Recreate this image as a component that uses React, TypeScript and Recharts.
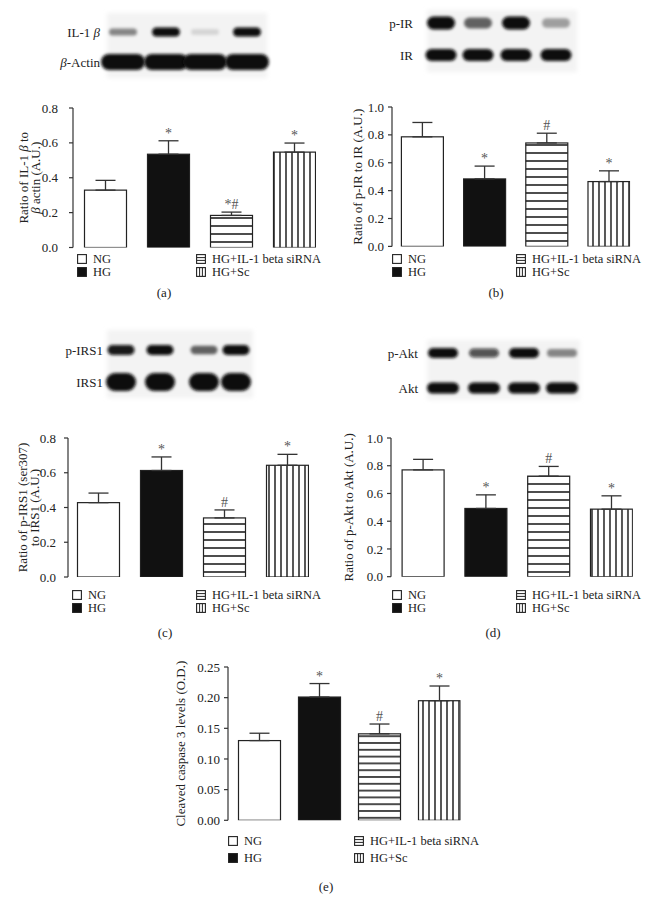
import React from 'react';
import { BarChart, Bar, XAxis, YAxis, ErrorBar, Cell } from 'recharts';

const FONT = '"Liberation Serif", "Times New Roman", serif';

// groups shared by every panel
const groups = ['NG', 'HG', 'HG+IL-1 beta siRNA', 'HG+Sc'];
const lanePos = [0, 1, 2, 3];

// (a) IL-1 beta / beta actin
const il1bMean = [0.329, 0.535, 0.184, 0.547];
const il1bSem = [0.056, 0.077, 0.019, 0.052];
const il1bMarks = ['', '*', '*#', '*'];
const il1bTicks = [0, 0.2, 0.4, 0.6, 0.8];

// (b) p-IR / IR
const pirMean = [0.786, 0.484, 0.742, 0.465];
const pirSem = [0.103, 0.092, 0.07, 0.077];
const pirMarks = ['', '*', '#', '*'];
const pirTicks = [0, 0.2, 0.4, 0.6, 0.8, 1.0];

// (c) p-IRS1 (ser307) / IRS1
const pirs1Mean = [0.428, 0.613, 0.34, 0.643];
const pirs1Sem = [0.055, 0.078, 0.046, 0.063];
const pirs1Marks = ['', '*', '#', '*'];
const pirs1Ticks = [0, 0.2, 0.4, 0.6, 0.8];

// (d) p-Akt / Akt
const paktMean = [0.77, 0.492, 0.725, 0.487];
const paktSem = [0.076, 0.098, 0.07, 0.096];
const paktMarks = ['', '*', '#', '*'];
const paktTicks = [0, 0.2, 0.4, 0.6, 0.8, 1.0];

// (e) cleaved caspase 3
const casp3Mean = [0.13, 0.201, 0.141, 0.195];
const casp3Sem = [0.012, 0.022, 0.016, 0.024];
const casp3Marks = ['', '*', '#', '*'];
const casp3Ticks = [0, 0.05, 0.1, 0.15, 0.2, 0.25];

// western blot band intensities (0..1), one per lane
const il1bBand = [0.45, 1, 0.12, 1];
const actinBand = [1, 1, 1, 1];
const pirBand = [1, 0.6, 1, 0.35];
const irBand = [1, 1, 1, 1];
const pirs1Band = [0.95, 1, 0.6, 1];
const irs1Band = [1, 1, 1, 1];
const paktBand = [1, 0.7, 1, 0.45];
const aktBand = [1, 1, 1, 1];

type Seg = [string, boolean];

const BAR_W = 42;
const Y_AXIS_W = 80;
const TOP = 25;
const BOTTOM = 12;

function Panel(p: any) {
  const rows = groups.map((g, i) => ({
    group: g,
    pos: lanePos[i],
    value: p.means[i],
    sem: p.sems[i],
    err: [0, p.sems[i]],
    mark: p.marks[i],
  }));
  const fills = ['#ffffff', '#111111', `url(#hz-${p.id})`, `url(#vt-${p.id})`];
  const plotW = p.firstOffset + 3 * p.spacing + BAR_W / 2;
  const plotH = p.plotBottom - p.plotTop;
  const width = Y_AXIS_W + plotW + 4;
  const height = TOP + plotH + BOTTOM;
  const max = p.ticks[p.ticks.length - 1];

  const shape = (s: any) => {
    const { x, y, width: w, height: h, fill, payload } = s;
    const capY = y - (payload.sem / payload.value) * h;
    return (
      <g>
        <rect x={x} y={y} width={w} height={h} fill={fill} stroke="#222" strokeWidth={1.2} />
        {payload.mark ? (
          <text x={x + w / 2} y={capY - 3} textAnchor="middle" fontSize={14} fill="#555" fontFamily={FONT}>
            {payload.mark}
          </text>
        ) : null}
      </g>
    );
  };

  const title = () => {
    const cy = TOP + plotH / 2;
    return (
      <g>
        {p.title.map((line: Seg[], i: number) => {
          const cx = Y_AXIS_W + p.titleOffsets[i];
          return (
            <text key={i} x={cx} y={cy} transform={`rotate(-90 ${cx} ${cy})`} textAnchor="middle"
              dominantBaseline="central" fontSize={13} fill="#222" fontFamily={FONT}>
              {line.map((seg, j) => (
                <tspan key={j} fontStyle={seg[1] ? 'italic' : 'normal'}>{seg[0]}</tspan>
              ))}
            </text>
          );
        })}
      </g>
    );
  };

  return (
    <div style={{ position: 'absolute', left: p.plotLeft - Y_AXIS_W, top: p.plotTop - TOP }}>
      <BarChart width={width} height={height} data={rows} margin={{ top: TOP, right: 4, bottom: BOTTOM, left: 0 }}>
        <defs>
          <pattern id={`hz-${p.id}`} width={6} height={p.hzGap} patternUnits="userSpaceOnUse">
            <rect width={6} height={p.hzGap} fill="#fff" />
            <line x1={0} y1={p.hzGap - 1} x2={6} y2={p.hzGap - 1} stroke="#111" strokeWidth={1.5} />
          </pattern>
          <pattern id={`vt-${p.id}`} width={6} height={6} patternUnits="userSpaceOnUse">
            <rect width={6} height={6} fill="#fff" />
            <line x1={5} y1={0} x2={5} y2={6} stroke="#111" strokeWidth={1.4} />
          </pattern>
        </defs>
        <XAxis type="number" dataKey="pos" domain={[-p.firstOffset / p.spacing, 3 + BAR_W / 2 / p.spacing]}
          allowDataOverflow tick={false} tickLine={false} height={0}
          axisLine={{ stroke: '#333', strokeWidth: 1.2 }} />
        <YAxis type="number" domain={[0, max]} ticks={p.ticks} allowDataOverflow width={Y_AXIS_W}
          tickFormatter={(v: number) => v.toFixed(p.digits)} interval={0}
          tick={{ fontSize: 13, fill: '#222', fontFamily: FONT }} tickSize={4} tickMargin={p.tickGap}
          axisLine={{ stroke: '#333', strokeWidth: 1.2 }} tickLine={{ stroke: '#333', strokeWidth: 1.2 }}
          label={{ content: title }} />
        <Bar dataKey="value" barSize={BAR_W} isAnimationActive={false} shape={shape}>
          {rows.map((r, i) => (
            <Cell key={r.group} fill={fills[i]} />
          ))}
          <ErrorBar dataKey="err" width={10} stroke="#333" strokeWidth={1.3} direction="y" isAnimationActive={false} />
        </Bar>
      </BarChart>
    </div>
  );
}

function Swatch({ kind }: { kind: number }) {
  return (
    <svg width={10} height={10} style={{ display: 'block' }}>
      <rect x={0.6} y={0.6} width={8.8} height={8.8} fill={kind === 1 ? '#111' : '#fff'} stroke="#222" strokeWidth={1.1} />
      {kind === 2 ? (
        <g stroke="#222" strokeWidth={1}>
          <line x1={1} y1={3.6} x2={9} y2={3.6} />
          <line x1={1} y1={6.4} x2={9} y2={6.4} />
        </g>
      ) : null}
      {kind === 3 ? (
        <g stroke="#222" strokeWidth={1}>
          <line x1={3.6} y1={1} x2={3.6} y2={9} />
          <line x1={6.4} y1={1} x2={6.4} y2={9} />
        </g>
      ) : null}
    </svg>
  );
}

function Legend({ x1, x2, y1, y2, size }: any) {
  const spots = [[x1, y1], [x1, y2], [x2, y1], [x2, y2]];
  return (
    <>
      {groups.map((g, i) => (
        <div key={g} style={{ position: 'absolute', left: spots[i][0], top: spots[i][1] - 6, height: 12,
          lineHeight: '12px', display: 'flex', alignItems: 'center', whiteSpace: 'nowrap', fontSize: size,
          color: '#222' }}>
          <Swatch kind={i} />
          <span style={{ marginLeft: 6 }}>{g}</span>
        </div>
      ))}
    </>
  );
}

function Caption({ x, y, text }: any) {
  return (
    <div style={{ position: 'absolute', left: x - 20, top: y - 8, width: 40, lineHeight: '16px',
      textAlign: 'center', fontSize: 13, color: '#222' }}>{text}</div>
  );
}

function Blot({ left, top, w, h, lanes, rows, labelRight }: any) {
  return (
    <g>
      <rect x={left} y={top} width={w} height={h} fill="#f3f3f3" filter="url(#soft)" />
      {rows.map((r: any, ri: number) => (
        <g key={ri}>
          {r.ints.map((v: number, li: number) => {
            const bh = r.bh * (0.6 + 0.4 * v);
            return (
              <rect key={li} x={lanes[li] - r.bw / 2} y={r.cy - bh / 2} width={r.bw} height={bh}
                rx={bh / 2} fill="#0a0a0a" fillOpacity={v} filter="url(#band)" />
            );
          })}
          <text x={labelRight} y={r.cy} textAnchor="end" dominantBaseline="central" fontSize={13}
            fill="#222" fontFamily={FONT}>
            {r.label.map((seg: Seg, j: number) => (
              <tspan key={j} fontStyle={seg[1] ? 'italic' : 'normal'}>{seg[0]}</tspan>
            ))}
          </text>
        </g>
      ))}
    </g>
  );
}

export default function App() {
  return (
    <div style={{ position: 'absolute', left: 0, top: 0, width: 659, height: 910, background: '#fff',
      fontFamily: FONT, overflow: 'hidden' }}>
      <svg width={659} height={910} style={{ position: 'absolute', left: 0, top: 0 }}>
        <defs>
          <filter id="band" x="-30%" y="-80%" width="160%" height="260%">
            <feGaussianBlur stdDeviation="1.4" />
          </filter>
          <filter id="soft" x="-10%" y="-10%" width="120%" height="120%">
            <feGaussianBlur stdDeviation="2" />
          </filter>
        </defs>
        <Blot left={107} top={13} w={160} h={65} lanes={[123, 166, 205, 247]} labelRight={100}
          rows={[
            { label: [['IL-1 ', false], ['β', true]], cy: 32, bh: 9, bw: 28, ints: il1bBand },
            { label: [['β', true], ['-Actin', false]], cy: 62, bh: 16, bw: 44, ints: actinBand },
          ]} />
        <Blot left={427} top={10} w={150} h={62} lanes={[441, 478, 516, 556]} labelRight={413}
          rows={[
            { label: [['p-IR', false]], cy: 23, bh: 13, bw: 28, ints: pirBand },
            { label: [['IR', false]], cy: 55, bh: 12, bw: 31, ints: irBand },
          ]} />
        <Blot left={107} top={330} w={146} h={68} lanes={[121, 160, 204, 236]} labelRight={103}
          rows={[
            { label: [['p-IRS1', false]], cy: 350, bh: 10, bw: 27, ints: pirs1Band },
            { label: [['IRS1', false]], cy: 382, bh: 18, bw: 30, ints: irs1Band },
          ]} />
        <Blot left={427} top={340} w={153} h={60} lanes={[443, 484, 524, 562]} labelRight={418}
          rows={[
            { label: [['p-Akt', false]], cy: 353, bh: 10, bw: 30, ints: paktBand },
            { label: [['Akt', false]], cy: 388, bh: 11, bw: 32, ints: aktBand },
          ]} />
      </svg>

      <Panel id="a" means={il1bMean} sems={il1bSem} marks={il1bMarks} ticks={il1bTicks} digits={1}
        plotLeft={73} plotTop={107.5} plotBottom={247} firstOffset={33} spacing={63} tickGap={11} hzGap={8}
        title={[[['Ratio of IL-1 ', false], ['β', true], [' to', false]], [['β', true], [' actin (A.U.)', false]]]}
        titleOffsets={[-50, -38]} />
      <Panel id="b" means={pirMean} sems={pirSem} marks={pirMarks} ticks={pirTicks} digits={1}
        plotLeft={392} plotTop={107.3} plotBottom={246.7} firstOffset={30.5} spacing={62.2} tickGap={4} hzGap={8}
        title={[[['Ratio of p-IR to IR (A.U.)', false]]]} titleOffsets={[-35]} />
      <Panel id="c" means={pirs1Mean} sems={pirs1Sem} marks={pirs1Marks} ticks={pirs1Ticks} digits={1}
        plotLeft={68} plotTop={438.3} plotBottom={577.3} firstOffset={31} spacing={63} tickGap={8} hzGap={8}
        title={[[['Ratio of p-IRS1 (ser307)', false]], [['to IRS1 (A.U.)', false]]]} titleOffsets={[-46, -34]} />
      <Panel id="d" means={paktMean} sems={paktSem} marks={paktMarks} ticks={paktTicks} digits={1}
        plotLeft={391} plotTop={438.3} plotBottom={577} firstOffset={32.5} spacing={62.8} tickGap={4} hzGap={8}
        title={[[['Ratio of p-Akt to Akt (A.U.)', false]]]} titleOffsets={[-43]} />
      <Panel id="e" means={casp3Mean} sems={casp3Sem} marks={casp3Marks} ticks={casp3Ticks} digits={2}
        plotLeft={228.3} plotTop={666.7} plotBottom={820} firstOffset={31.5} spacing={60} tickGap={4} hzGap={6.8}
        title={[[['Cleaved caspase 3 levels (O.D.)', false]]]} titleOffsets={[-48]} />

      <Legend x1={77} x2={196} y1={258.5} y2={271.5} size={12.5} />
      <Legend x1={392} x2={516} y1={258.5} y2={271.5} size={12.5} />
      <Legend x1={72} x2={196} y1={594.5} y2={607.5} size={12.5} />
      <Legend x1={392} x2={516} y1={594.5} y2={607.5} size={12.5} />
      <Legend x1={228} x2={354} y1={841} y2={858} size={12.5} />

      <Caption x={164} y={293} text="(a)" />
      <Caption x={496} y={293} text="(b)" />
      <Caption x={165} y={633} text="(c)" />
      <Caption x={493} y={633} text="(d)" />
      <Caption x={326} y={887} text="(e)" />
    </div>
  );
}
